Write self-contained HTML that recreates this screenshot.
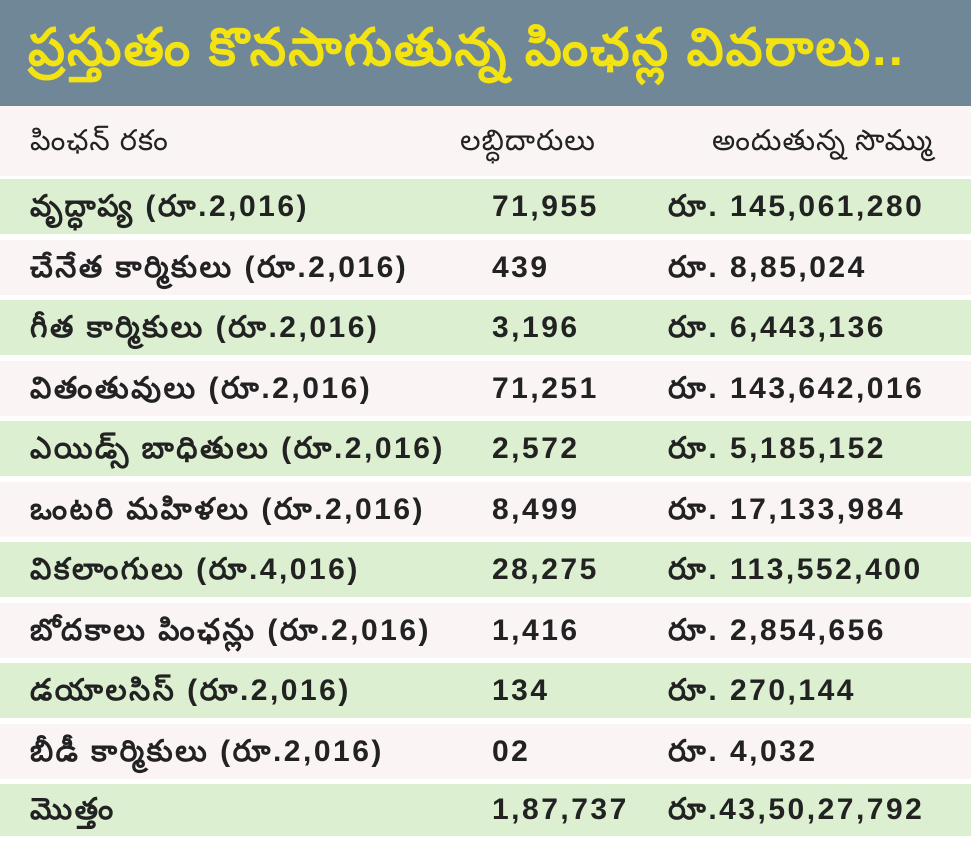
<!DOCTYPE html>
<html><head><meta charset="utf-8"><style>
body{margin:0;width:971px;height:841px;overflow:hidden;background:#fff;font-family:"Liberation Sans","DejaVu Sans",sans-serif;}
.title{position:absolute;left:0;top:0;width:971px;height:106px;background:#6f8796;color:#f4e312;font-size:52px;letter-spacing:2px;font-weight:bold;line-height:96px;padding-left:28px;box-sizing:border-box;white-space:nowrap;}
.row{position:absolute;left:0;width:971px;height:57px;font-size:30px;letter-spacing:2.5px;font-weight:bold;color:#222;}
.row span{position:absolute;top:0;white-space:nowrap;line-height:inherit;}
.c1{left:30px}.c2{left:492px}.c3{left:668px}
.g{background:#dcefd0}.p{background:#fbf4f5}
.hdr{font-weight:normal;font-size:29px;letter-spacing:1px}
</style></head><body>
<div class="title">ప్రస్తుతం కొనసాగుతున్న పింఛన్ల వివరాలు..</div>
<div class="row p hdr" style="top:106px;height:70px;line-height:70px"><span class="c1">పింఛన్ రకం</span><span class="c2" style="left:460px">లబ్ధిదారులు</span><span class="c3" style="left:712px">అందుతున్న సొమ్ము</span></div>
<div id="rows"></div>
<script>
const labels=["వృద్ధాప్య (రూ.2,016)","చేనేత కార్మికులు (రూ.2,016)","గీత కార్మికులు (రూ.2,016)","వితంతువులు (రూ.2,016)","ఎయిడ్స్ బాధితులు (రూ.2,016)","ఒంటరి మహిళలు (రూ.2,016)","వికలాంగులు (రూ.4,016)","బోదకాలు పింఛన్లు (రూ.2,016)","డయాలసిస్ (రూ.2,016)","బీడీ కార్మికులు (రూ.2,016)","మొత్తం"];
const beneficiaries=["71,955","439","3,196","71,251","2,572","8,499","28,275","1,416","134","02","1,87,737"];
const amounts=["రూ. 145,061,280","రూ. 8,85,024","రూ. 6,443,136","రూ. 143,642,016","రూ. 5,185,152","రూ. 17,133,984","రూ. 113,552,400","రూ. 2,854,656","రూ. 270,144","రూ. 4,032","రూ.43,50,27,792"];
const c=document.getElementById('rows');
labels.forEach((l,i)=>{
 const r=document.createElement('div');
 r.className='row '+(i%2==0?'g':'p');
 r.style.top=(179+i*60.5)+'px';
 const h=(i==10?52:55);
 r.style.height=h+'px';
 r.style.lineHeight=h+'px';
 
 
 const a=document.createElement('span');a.className='c1';a.textContent=l;
 
 
 const b=document.createElement('span');b.className='c2';b.textContent=beneficiaries[i];
 
 
 const d=document.createElement('span');d.className='c3';d.textContent=amounts[i];
 
 
 r.append(a,b,d);c.appendChild(r);
});
</script>
</body></html>
